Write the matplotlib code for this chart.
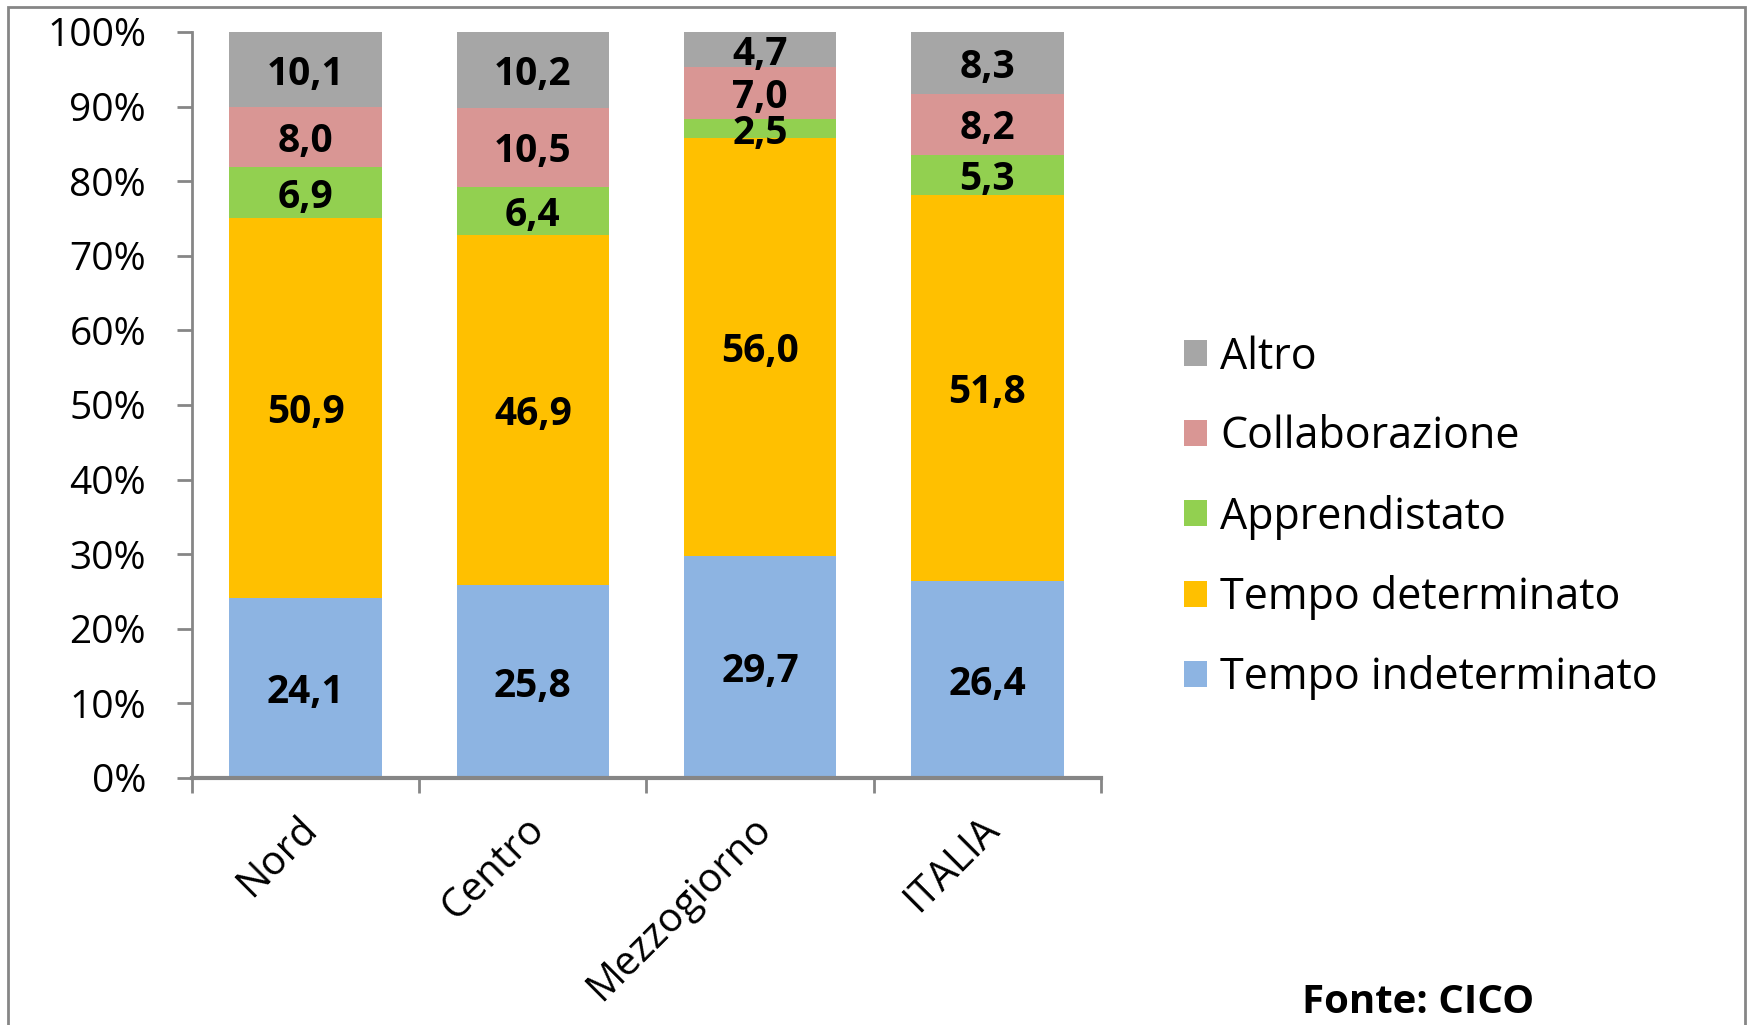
import matplotlib.pyplot as plt
import matplotlib.patches as mpatches
import matplotlib.transforms as mtransforms
import numpy as np

plt.rcParams['font.family'] = ['Open Sans', 'DejaVu Sans']

# Data
regions = ['Nord', 'Centro', 'Mezzogiorno', 'ITALIA']
series = ['Tempo indeterminato', 'Tempo determinato', 'Apprendistato',
          'Collaborazione', 'Altro']
indeterminato = [24.1, 25.8, 29.7, 26.4]
determinato = [50.9, 46.9, 56.0, 51.8]
apprendistato = [6.9, 6.4, 2.5, 5.3]
collaborazione = [8.0, 10.5, 7.0, 8.2]
altro = [10.1, 10.2, 4.7, 8.3]
colors = ['#8DB4E2', '#FFC000', '#92D050', '#D99694', '#A6A6A6']

values = np.array([indeterminato, determinato, apprendistato, collaborazione, altro])
shares = values / values.sum(axis=0) * 100  # 100% stacked

fig = plt.figure(figsize=(17.48, 10.25), dpi=100)
ax = fig.add_axes([0.1098, 0.241, 0.5201, 0.7278])

x = np.arange(len(regions))
bottom = np.zeros(len(regions))
handles = []
for i, name in enumerate(series):
    bars = ax.bar(x, shares[i], bottom=bottom, width=0.67, color=colors[i],
                  label=name, zorder=2)
    handles.append(bars)
    for j in range(len(regions)):
        ax.text(x[j], bottom[j] + shares[i, j] / 2, f"{values[i, j]:.1f}".replace('.', ','),
                ha='center', va='center_baseline', fontsize=28, fontweight='bold', zorder=3)
    bottom += shares[i]

ax.set_xlim(-0.5, len(regions) - 0.5)
ax.set_ylim(0, 100)
ax.set_yticks(np.arange(0, 101, 10))
ax.set_yticklabels([f"{v}%" for v in range(0, 101, 10)], fontsize=28)
ax.tick_params(axis='y', length=11, width=2, color='#868686', pad=22)

ax.set_xticks(x)
ax.set_xticklabels(regions, rotation=45, ha='right', va='top', fontsize=29)
ax.tick_params(axis='x', which='major', length=0, pad=22)
ax.set_xticks(np.arange(-0.5, len(regions)), minor=True)
ax.tick_params(axis='x', which='minor', length=11, width=2, color='#868686')
shift = mtransforms.ScaledTranslation(0.2, 0, fig.dpi_scale_trans)
for lbl in ax.get_xticklabels():
    lbl.set_transform(lbl.get_transform() + shift)

for s in ['top', 'right']:
    ax.spines[s].set_visible(False)
ax.spines['left'].set_color('#868686')
ax.spines['left'].set_linewidth(2)
ax.spines['bottom'].set_color('#868686')
ax.spines['bottom'].set_linewidth(3)

fig.legend(handles[::-1], series[::-1], loc='center left',
           bbox_to_anchor=(0.655, 0.495), frameon=False, fontsize=31,
           handlelength=0.55, handleheight=0.55, handletextpad=0.3,
           labelspacing=0.82)

fig.text(0.745, 0.022, 'Fonte: CICO', fontsize=29, fontweight='bold',
         ha='left', va='center')

# outer frame
fig.patches.append(mpatches.Rectangle((0.0046, -0.01), 0.9937, 1.003,
                                      transform=fig.transFigure, fill=False,
                                      edgecolor='#868686', linewidth=2))

fig.savefig('out.png', dpi=100)
